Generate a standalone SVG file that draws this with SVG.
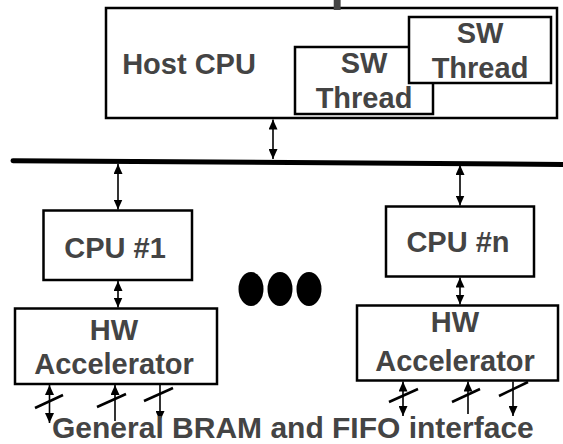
<svg xmlns="http://www.w3.org/2000/svg" width="563" height="444" viewBox="0 0 563 444">
  <defs>
    <marker id="ah" markerUnits="userSpaceOnUse" markerWidth="10" markerHeight="9" refX="10" refY="4.5" orient="auto-start-reverse">
      <path d="M0,0 L10,4.5 L0,9 z" fill="#000"/>
    </marker>
  </defs>
  <style>
    .box { fill: #fff; stroke: #000; stroke-width: 2.5; }
    .lbl { font-family: "Liberation Sans", Arial, sans-serif; font-weight: bold; font-size: 29px; fill: #444; text-anchor: middle; }
    .title { font-family: "Liberation Sans", Arial, sans-serif; font-weight: bold; font-size: 50px; fill: #444; }
    .arr { stroke: #000; stroke-width: 1.6; fill: none; }
    .dbl { marker-start: url(#ah); marker-end: url(#ah); }
    .end { marker-end: url(#ah); }
    .slash { stroke: #000; stroke-width: 2.5; }
    .bus { stroke: #000; stroke-width: 5; stroke-linecap: round; }
  </style>
  <rect width="563" height="444" fill="#fff"/>

  <g id="host-cpu">
    <rect class="box" x="106" y="8" width="451" height="110"/>
    <text class="lbl" x="189" y="74">Host CPU</text>
  </g>
  <g id="sw-thread-1">
    <rect class="box" x="295" y="47" width="138" height="67"/>
    <text class="lbl" x="364" y="73">SW</text>
    <text class="lbl" x="364" y="108">Thread</text>
  </g>
  <g id="sw-thread-2">
    <rect class="box" x="409" y="17" width="142" height="66"/>
    <text class="lbl" x="480" y="43">SW</text>
    <text class="lbl" x="480" y="78">Thread</text>
  </g>

  <text class="title" x="8" y="0">s: Extensible processors</text>

  <g id="cpu-1">
    <rect class="box" x="43.5" y="210.5" width="148.5" height="69.5"/>
    <text class="lbl" x="115" y="258">CPU #1</text>
  </g>
  <g id="cpu-n">
    <rect class="box" x="386" y="206.5" width="148" height="70"/>
    <text class="lbl" x="458" y="252">CPU #n</text>
  </g>
  <g id="hw-accel-1">
    <rect class="box" x="15" y="308.5" width="202" height="75.5"/>
    <text class="lbl" x="114" y="340">HW</text>
    <text class="lbl" x="114" y="374">Accelerator</text>
  </g>
  <g id="hw-accel-n">
    <rect class="box" x="357" y="305.5" width="201" height="75"/>
    <text class="lbl" x="455" y="332">HW</text>
    <text class="lbl" x="455" y="371">Accelerator</text>
  </g>
  <g id="ellipsis">
    <ellipse cx="251" cy="289" rx="12.5" ry="17" fill="#000"/>
    <ellipse cx="280" cy="289" rx="12.5" ry="17" fill="#000"/>
    <ellipse cx="309" cy="289" rx="12.5" ry="17" fill="#000"/>
  </g>

  <g id="connectors">
    <line class="bus" x1="13" y1="160.7" x2="566" y2="164.5"/>
    <line class="arr dbl" x1="273" y1="119.5" x2="273" y2="159"/>
    <line class="arr dbl" x1="118" y1="164" x2="118" y2="209.5"/>
    <line class="arr dbl" x1="460" y1="165" x2="460" y2="205.5"/>
    <line class="arr dbl" x1="118" y1="281" x2="118" y2="307.5"/>
    <line class="arr dbl" x1="460" y1="277.5" x2="460" y2="304.5"/>

    <line class="arr dbl" x1="49.5" y1="385" x2="49.5" y2="423"/>
    <line class="arr end" x1="115" y1="421" x2="115" y2="385"/>
    <line class="arr end" x1="160" y1="385" x2="160" y2="421"/>
    <line class="slash" x1="35" y1="408" x2="63" y2="395"/>
    <line class="slash" x1="97" y1="407" x2="126" y2="394"/>
    <line class="slash" x1="144" y1="401" x2="173" y2="388"/>

    <line class="arr dbl" x1="403" y1="381.5" x2="403" y2="416"/>
    <line class="arr end" x1="468" y1="414" x2="468" y2="381.5"/>
    <line class="arr end" x1="513" y1="381.5" x2="513" y2="416"/>
    <line class="slash" x1="389" y1="402" x2="418" y2="389"/>
    <line class="slash" x1="452" y1="402" x2="480" y2="389"/>
    <line class="slash" x1="499" y1="396" x2="528" y2="382"/>
  </g>

  <text class="lbl" x="52" y="438" style="text-anchor:start;font-size:30px">General BRAM and FIFO interface</text>
</svg>
